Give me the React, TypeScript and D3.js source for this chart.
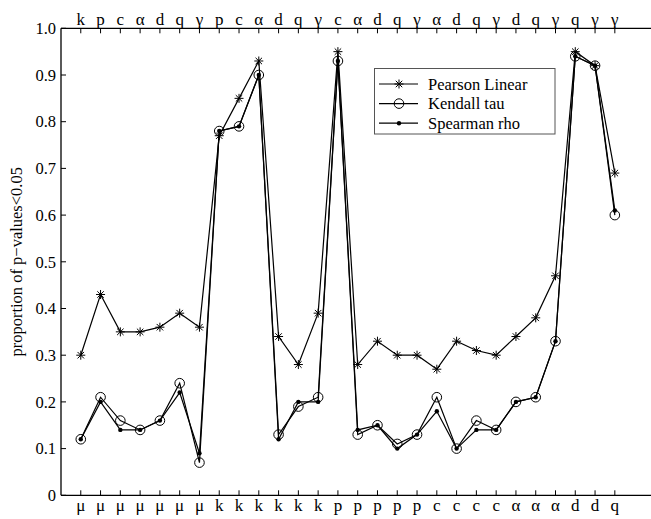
import React from 'react';
import * as d3 from 'd3';

// category pairs (first letter below the axis, second letter above)
const bottomLabels = ['μ','μ','μ','μ','μ','μ','μ','k','k','k','k','k','k','p','p','p','p','p','c','c','c','c','α','α','α','d','d','q'];
const topLabels = ['k','p','c','α','d','q','γ','p','c','α','d','q','γ','c','α','d','q','γ','α','d','q','γ','d','q','γ','q','γ','γ'];

const pearson = [0.30,0.43,0.35,0.35,0.36,0.39,0.36,0.77,0.85,0.93,0.34,0.28,0.39,0.95,0.28,0.33,0.30,0.30,0.27,0.33,0.31,0.30,0.34,0.38,0.47,0.95,0.92,0.69];
const kendall = [0.12,0.21,0.16,0.14,0.16,0.24,0.07,0.78,0.79,0.90,0.13,0.19,0.21,0.93,0.13,0.15,0.11,0.13,0.21,0.10,0.16,0.14,0.20,0.21,0.33,0.94,0.92,0.60];
const spearman = [0.12,0.20,0.14,0.14,0.16,0.22,0.09,0.78,0.79,0.90,0.12,0.20,0.20,0.93,0.14,0.15,0.10,0.13,0.18,0.10,0.14,0.14,0.20,0.21,0.33,0.94,0.92,0.61];

const yTicks = [0,0.1,0.2,0.3,0.4,0.5,0.6,0.7,0.8,0.9,1.0];

const W = 651;
const H = 519;
const font = '"Liberation Serif", "Times New Roman", serif';

const Star = ({ x, y, r = 4.5 }) => {
  const d = r * 0.72;
  return (
    <g stroke="#000" strokeWidth={1}>
      <line x1={x - r} y1={y} x2={x + r} y2={y} />
      <line x1={x} y1={y - r} x2={x} y2={y + r} />
      <line x1={x - d} y1={y - d} x2={x + d} y2={y + d} />
      <line x1={x - d} y1={y + d} x2={x + d} y2={y - d} />
    </g>
  );
};

const Ring = ({ x, y }) => (
  <circle cx={x} cy={y} r={4.8} fill="none" stroke="#000" strokeWidth={1} />
);

const Dot = ({ x, y }) => <circle cx={x} cy={y} r={2.2} fill="#000" />;

export default function App() {
  const x = d3.scaleLinear().domain([0, 30]).range([61, 654.4]);
  const y = d3.scaleLinear().domain([0, 1]).range([495.3, 28.3]);
  const idx = d3.range(1, 29);
  const line = d3.line<number>().x((_, i) => x(i + 1)).y(v => y(v));
  const fmt = (v: number) => (v === 0 ? '0' : v.toFixed(1));

  const series = [
    { name: 'Pearson Linear', data: pearson, M: Star },
    { name: 'Kendall tau', data: kendall, M: Ring },
    { name: 'Spearman rho', data: spearman, M: Dot },
  ];

  const lg = { x: 374.5, y: 68.5, w: 180.5, h: 65.5 };

  return (
    <svg width={W} height={H} style={{ position: 'absolute', left: 0, top: 0, background: '#fff' }} fontFamily={font}>
      {/* frame */}
      <line x1={61} y1={y(1)} x2={W} y2={y(1)} stroke="#000" strokeWidth={1.3} />
      <line x1={61} y1={y(0)} x2={W} y2={y(0)} stroke="#000" strokeWidth={1.3} />
      <line x1={61} y1={y(0)} x2={61} y2={y(1)} stroke="#000" strokeWidth={1.3} />

      {/* y ticks */}
      {yTicks.map(t => (
        <g key={t}>
          <line x1={61} x2={66} y1={y(t)} y2={y(t)} stroke="#000" />
          <text x={56} y={y(t)} dy="0.35em" textAnchor="end" fontSize={16.5}>{fmt(t)}</text>
        </g>
      ))}

      {/* x ticks and labels */}
      {idx.map((i, k) => (
        <g key={i}>
          <line x1={x(i)} x2={x(i)} y1={y(0)} y2={y(0) - 5} stroke="#000" />
          <line x1={x(i)} x2={x(i)} y1={y(1)} y2={y(1) + 5} stroke="#000" />
          <text x={x(i)} y={511} textAnchor="middle" fontSize={17}>{bottomLabels[k]}</text>
          <text x={x(i)} y={24.5} textAnchor="middle" fontSize={17}>{topLabels[k]}</text>
        </g>
      ))}

      <text transform={`translate(22,${(y(0) + y(1)) / 2}) rotate(-90)`} textAnchor="middle" fontSize={16.5}>
        proportion of p−values&lt;0.05
      </text>

      {/* series */}
      {series.map(s => (
        <g key={s.name}>
          <path d={line(s.data) || ''} fill="none" stroke="#000" strokeWidth={1.2} />
          {s.data.map((v, i) => <s.M key={i} x={x(i + 1)} y={y(v)} />)}
        </g>
      ))}

      {/* legend */}
      <rect x={lg.x} y={lg.y} width={lg.w} height={lg.h} fill="#fff" stroke="#555" strokeWidth={1} />
      {series.map((s, i) => {
        const ly = 84 + i * 19.6;
        return (
          <g key={s.name}>
            <line x1={379} x2={418} y1={ly} y2={ly} stroke="#000" strokeWidth={1.2} />
            <s.M x={399} y={ly} />
            <text x={428} y={ly} dy="0.35em" fontSize={16.5}>{s.name}</text>
          </g>
        );
      })}
    </svg>
  );
}
